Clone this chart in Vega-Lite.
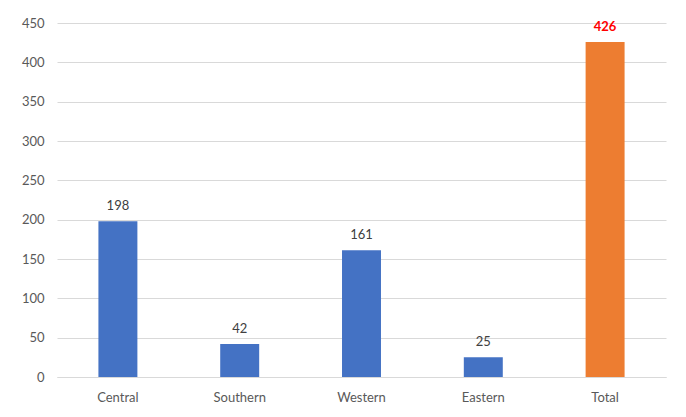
{
  "$schema": "https://vega.github.io/schema/vega-lite/v6.json",
  "width": 609,
  "height": 354,
  "autosize": "none",
  "padding": {"left": 57, "top": 23, "right": 20, "bottom": 40},
  "background": "white",
  "config": {
    "view": {"stroke": null},
    "font": "Lato",
    "axis": {"labelFont": "Lato", "labelFontSize": 13, "labelColor": "#595959"}
  },
  "data": {
    "values": [
      {"region": "Central", "count": 198, "kind": "region"},
      {"region": "Southern", "count": 42, "kind": "region"},
      {"region": "Western", "count": 161, "kind": "region"},
      {"region": "Eastern", "count": 25, "kind": "region"},
      {"region": "Total", "count": 426, "kind": "total"}
    ]
  },
  "encoding": {
    "x": {
      "field": "region", "type": "nominal", "sort": null,
      "scale": {"paddingInner": 0.68, "paddingOuter": 0.34},
      "axis": {"title": null, "labelAngle": 0, "ticks": false, "domain": true, "domainColor": "#d9d9d9", "labelPadding": 14, "grid": false}
    },
    "y": {
      "field": "count", "type": "quantitative",
      "scale": {"domain": [0, 450]},
      "axis": {"title": null, "values": [0,50,100,150,200,250,300,350,400,450], "ticks": false, "domain": false, "gridColor": "#d9d9d9", "gridWidth": 1, "labelPadding": 13}
    }
  },
  "layer": [
    {
      "mark": {"type": "bar"},
      "encoding": {
        "color": {
          "field": "kind", "type": "nominal",
          "scale": {"domain": ["region", "total"], "range": ["#4472C4", "#ED7D31"]},
          "legend": null
        }
      }
    },
    {
      "transform": [{"filter": "datum.kind == 'region'"}],
      "mark": {"type": "text", "baseline": "bottom", "dy": -8, "fontSize": 13, "color": "#404040"},
      "encoding": {"text": {"field": "count", "type": "quantitative"}}
    },
    {
      "transform": [{"filter": "datum.kind == 'total'"}],
      "mark": {"type": "text", "baseline": "bottom", "dy": -8, "fontSize": 13, "fontWeight": "bold", "color": "#FF0000"},
      "encoding": {"text": {"field": "count", "type": "quantitative"}}
    }
  ]
}
